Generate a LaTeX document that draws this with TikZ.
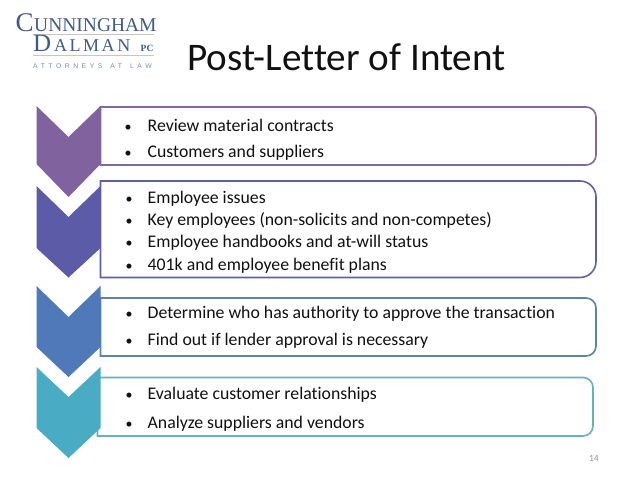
\documentclass[tikz,border=0pt]{standalone}
\usepackage{fontspec}
\setmainfont{Carlito}[Ligatures=NoCommon]
\newfontfamily\logofont{Liberation Serif}
\newfontfamily\lawfont{Liberation Sans}[LetterSpace=52]
\newfontfamily\almanfont{Liberation Serif}[LetterSpace=14]
\definecolor{cA}{HTML}{80629F}
\definecolor{cB}{HTML}{5B5BA8}
\definecolor{cC}{HTML}{4F79B8}
\definecolor{cD}{HTML}{49ABC4}
\definecolor{bA}{HTML}{8068A0}
\definecolor{bB}{HTML}{6060A4}
\definecolor{bC}{HTML}{5C84A8}
\definecolor{bD}{HTML}{66B0C2}
\definecolor{navy}{HTML}{3F5A8C}
\definecolor{rulegray}{HTML}{C4C6CC}
\definecolor{lawgray}{HTML}{7F8CA6}
\definecolor{ink}{HTML}{111111}
\tikzset{
  x=1pt,y=-1pt,
  bulletline/.style={anchor=base west,inner sep=0pt,font=\fontsize{17.75}{20}\selectfont,text=ink},
  dot/.style={anchor=base,inner sep=0pt,font=\fontsize{14}{20}\selectfont,text=ink},
  boxline/.style={line width=1.6pt,fill=white},
  logotext/.style={anchor=base west,inner sep=0pt,text=navy},
}
\newcommand{\chevron}[5]{% colour, top, notch, shoulder, tip
  \fill[#1] (36.5,#2) -- (68.5,#3) -- (100.5,#2) -- (100.5,#4) -- (68.5,#5) -- (36.5,#4) -- cycle;}
\newcommand{\bul}[4]{% name, bullet x, baseline, text
  \node[dot] (#1d) at (#2,#3) {•};
  \node[bulletline] (#1) at (147.5,#3) {#4};}
\newcommand{\stepbox}[6]{% colour, left, top, right, bottom, radius
  \draw[boxline,draw=#1] (#2,#3) -- (#4-#6,#3) arc[start angle=90,end angle=0,radius=#6pt] -- (#4,#5-#6) arc[start angle=0,end angle=-90,radius=#6pt] -- (#2,#5) -- cycle;}
\begin{document}
\begin{tikzpicture}
\useasboundingbox (0,0) rectangle (638,479);
\fill[white] (0,0) rectangle (638,479);
% boxes
\stepbox{bA}{100.5}{107}{596}{165}{10}
\stepbox{bB}{100.5}{181}{596}{277.5}{16}
\stepbox{bC}{100.5}{298}{596}{356}{10}
\stepbox{bD}{97.5}{377.5}{593}{436}{10}
% chevrons
\chevron{cA}{106}{137}{164}{197}
\chevron{cB}{186}{217}{248}{277.5}
\chevron{cC}{286}{317}{347}{377}
\chevron{cD}{367}{397}{428}{458}
% title
\node[anchor=base west,inner sep=0pt,font=\fontsize{39.1}{44}\selectfont,text=ink] (title) at (187,70) {Post-Letter of Intent};
% logo
\node[logotext,font=\logofont\fontsize{27}{28}\selectfont] (logoC) at (15.5,31.5) {C};
\node[logotext,font=\logofont\fontsize{19.5}{22}\selectfont] (logoU) at (34,31.5) {UNNINGHAM};
\fill[rulegray] (33,33.5) rectangle (153.5,35);
\node[logotext,font=\logofont\fontsize{25}{28}\selectfont] (logoD) at (33,52) {D};
\node[logotext,font=\almanfont\fontsize{18}{22}\selectfont] (logoA) at (54,52) {ALMAN};
\node[logotext,font=\logofont\bfseries\fontsize{9.5}{10}\selectfont] (logoP) at (140.5,52) {PC};
\fill[rulegray] (33,54.5) rectangle (153.5,56);
\node[logotext,font=\lawfont\fontsize{6.8}{8}\selectfont,text=lawgray] (logoL) at (33,68) {ATTORNEYS\hspace{8pt}AT\hspace{8pt}LAW};
% text
\bul{a}{128}{131}{Review material contracts}
\bul{b}{128}{157}{Customers and suppliers}
\bul{c}{129}{203}{Employee issues}
\bul{d}{129}{225}{Key employees (non-solicits and non-competes)}
\bul{e}{129}{247}{Employee handbooks and at-will status}
\bul{f}{129}{270}{401k and employee benefit plans}
\bul{g}{129}{318}{Determine who has authority to approve the transaction}
\bul{h}{129}{345}{Find out if lender approval is necessary}
\bul{i}{129}{399}{Evaluate customer relationships}
\bul{j}{129}{428}{Analyze suppliers and vendors}
\node[anchor=base east,inner sep=0pt,font=\fontsize{9.5}{11}\selectfont,text=gray!85] (pg) at (599,461) {14};
\end{tikzpicture}
\end{document}
